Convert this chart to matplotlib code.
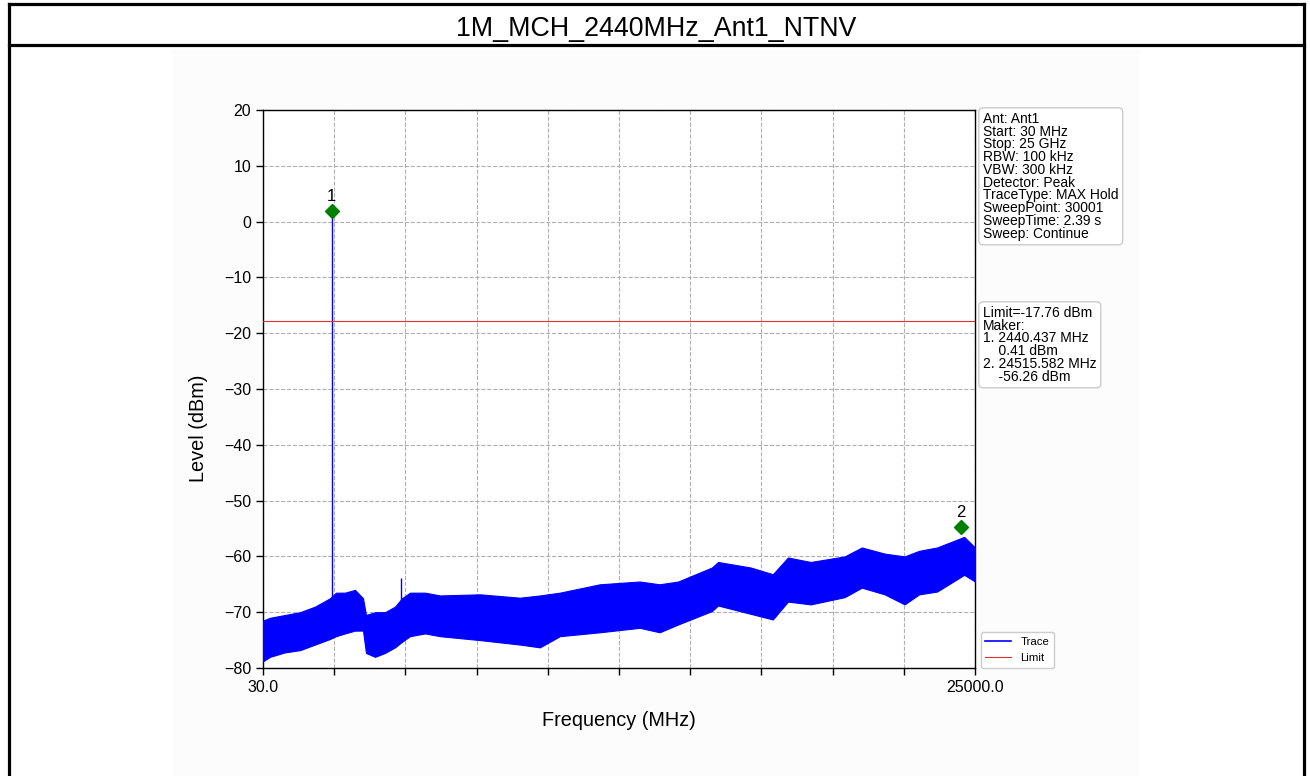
import matplotlib
matplotlib.use("Agg")
import matplotlib.pyplot as plt
from matplotlib.lines import Line2D
from matplotlib.patches import Rectangle
import numpy as np

plt.rcParams['font.family'] = ['Liberation Sans', 'DejaVu Sans']

# ---------------- data ----------------
title = "1M_MCH_2440MHz_Ant1_NTNV"
band_freq = [30, 275, 800, 1328, 1854, 2380, 2590, 2906, 3256, 3537, 3642, 3958, 4309,
             4660, 4905, 5185, 5711, 6237, 7640, 9040, 9740, 10440, 11840, 13240,
             13940, 14590, 15770, 15990, 17140, 17910, 18440, 19240, 20430, 21030,
             21830, 22530, 23040, 23670, 24620, 25000]
band_top = [-71.5, -71.0, -70.5, -70.0, -69.0, -67.5, -66.5, -66.5, -66.0, -67.5, -70.5,
            -70.0, -70.0, -69.0, -67.5, -66.5, -66.5, -67.0, -66.8, -67.4, -67.0,
            -66.5, -65.0, -64.5, -65.0, -64.5, -62.0, -61.0, -62.0, -63.2, -60.2,
            -61.0, -60.0, -58.4, -59.5, -60.0, -59.0, -58.4, -56.5, -58.4]
band_bot = [-78.8, -78.0, -77.2, -76.8, -75.8, -74.8, -74.3, -73.8, -73.3, -73.3, -77.3,
            -78.0, -77.3, -76.3, -75.3, -74.3, -73.8, -74.3, -75.0, -75.8, -76.3,
            -74.3, -73.6, -72.8, -73.6, -72.2, -69.8, -68.8, -70.3, -71.3, -68.1,
            -68.6, -67.3, -65.6, -66.8, -68.6, -66.8, -66.3, -63.3, -64.5]
spike_freq = [2440.437, 4880.0]
spike_base = [-68.0, -68.0]
spike_top = [1.9, -63.8]
marker_freq = [2440.437, 24515.582]
marker_level = [1.9, -54.7]
marker_names = ["1", "2"]
limit_level = -17.76
x_start, x_stop = 30.0, 25000.0
y_ticks = [-80, -70, -60, -50, -40, -30, -20, -10, 0, 10, 20]
x_tick_labels = ["30.0", "", "", "", "", "", "", "", "", "", "25000.0"]

info_text = ("Ant: Ant1\nStart: 30 MHz\nStop: 25 GHz\nRBW: 100 kHz\nVBW: 300 kHz\n"
             "Detector: Peak\nTraceType: MAX Hold\nSweepPoint: 30001\n"
             "SweepTime: 2.39 s\nSweep: Continue")
marker_text = ("Limit=-17.76 dBm\nMaker:\n1. 2440.437 MHz\n    0.41 dBm\n"
               "2. 24515.582 MHz\n    -56.26 dBm")

# ---------------- figure ----------------
W, H = 1310, 776
fig = plt.figure(figsize=(W / 100, H / 100), dpi=100)
fig.patch.set_facecolor('white')

fig.patches.append(Rectangle((173 / W, 0), (1139 - 173) / W, (776 - 50) / H,
                             transform=fig.transFigure, facecolor='#fcfcfc',
                             edgecolor='none', zorder=-5))

lw = 2.3
for xx in (8.5, 1303.5):
    fig.add_artist(Line2D([xx / W, xx / W], [0, 1 - 3.5 / H], color='black', lw=lw,
                          transform=fig.transFigure))
for yy in (3.5, 44.5):
    fig.add_artist(Line2D([8.5 / W, 1303.5 / W], [1 - yy / H, 1 - yy / H], color='black',
                          lw=lw, transform=fig.transFigure, solid_capstyle='projecting'))

fig.text(656 / W, 1 - 29 / H, title, ha='center', va='center', fontsize=19.3)

ax = fig.add_axes([263 / W, 1 - 668 / H, 712 / W, 558 / H])
ax.set_facecolor('white')

ax.fill_between(band_freq, band_bot, band_top, color='blue', lw=0.8, zorder=3)
ax.vlines(spike_freq, spike_base, spike_top, color='blue', lw=1.0, zorder=3)
trace_handle = Line2D([], [], color='blue', lw=1.2, label='Trace')
lim = ax.axhline(limit_level, color='#e03030', lw=0.8, zorder=4, label='Limit')

ax.plot(marker_freq, marker_level, linestyle='none', marker='D', markersize=7,
        color='green', zorder=5)
for f, lv, nm in zip(marker_freq, marker_level, marker_names):
    ax.annotate(nm, (f, lv), xytext=(0, 5), textcoords='offset points',
                ha='center', va='bottom', fontsize=12)

ax.set_xlim(x_start, x_stop)
ax.set_ylim(-80, 20)
ax.set_yticks(y_ticks)
ax.set_xticks(np.linspace(x_start, x_stop, len(x_tick_labels)))
ax.set_xticklabels(x_tick_labels)
ax.tick_params(labelsize=11.5, length=5, width=1)
ax.grid(True, color='#b0b0b0', linestyle='--', lw=0.8)
ax.set_axisbelow(True)
for s in ax.spines.values():
    s.set_linewidth(1.0)

ax.set_xlabel("Frequency (MHz)", fontsize=14.3, labelpad=12)
ax.set_ylabel("Level (dBm)", fontsize=14.3, labelpad=8)
ax.yaxis.set_label_coords(-0.077, 0.43)

bbox_kw = dict(boxstyle='round,pad=0.3', facecolor='white', edgecolor='#cccccc', lw=1.0)
fig.text(983 / W, 1 - 112 / H, info_text, ha='left', va='top', fontsize=10.0,
         linespacing=0.885, bbox=bbox_kw)
fig.text(983 / W, 1 - 306 / H, marker_text, ha='left', va='top', fontsize=10.0,
         linespacing=0.885, bbox=bbox_kw)

ax.legend(handles=[trace_handle, lim], loc='lower left', bbox_to_anchor=(1.008, 0.0),
          borderaxespad=0, fontsize=8.2, labelspacing=0.6, handlelength=2.3,
          framealpha=1, edgecolor='#cccccc')

fig.savefig("out.png", dpi=100)
